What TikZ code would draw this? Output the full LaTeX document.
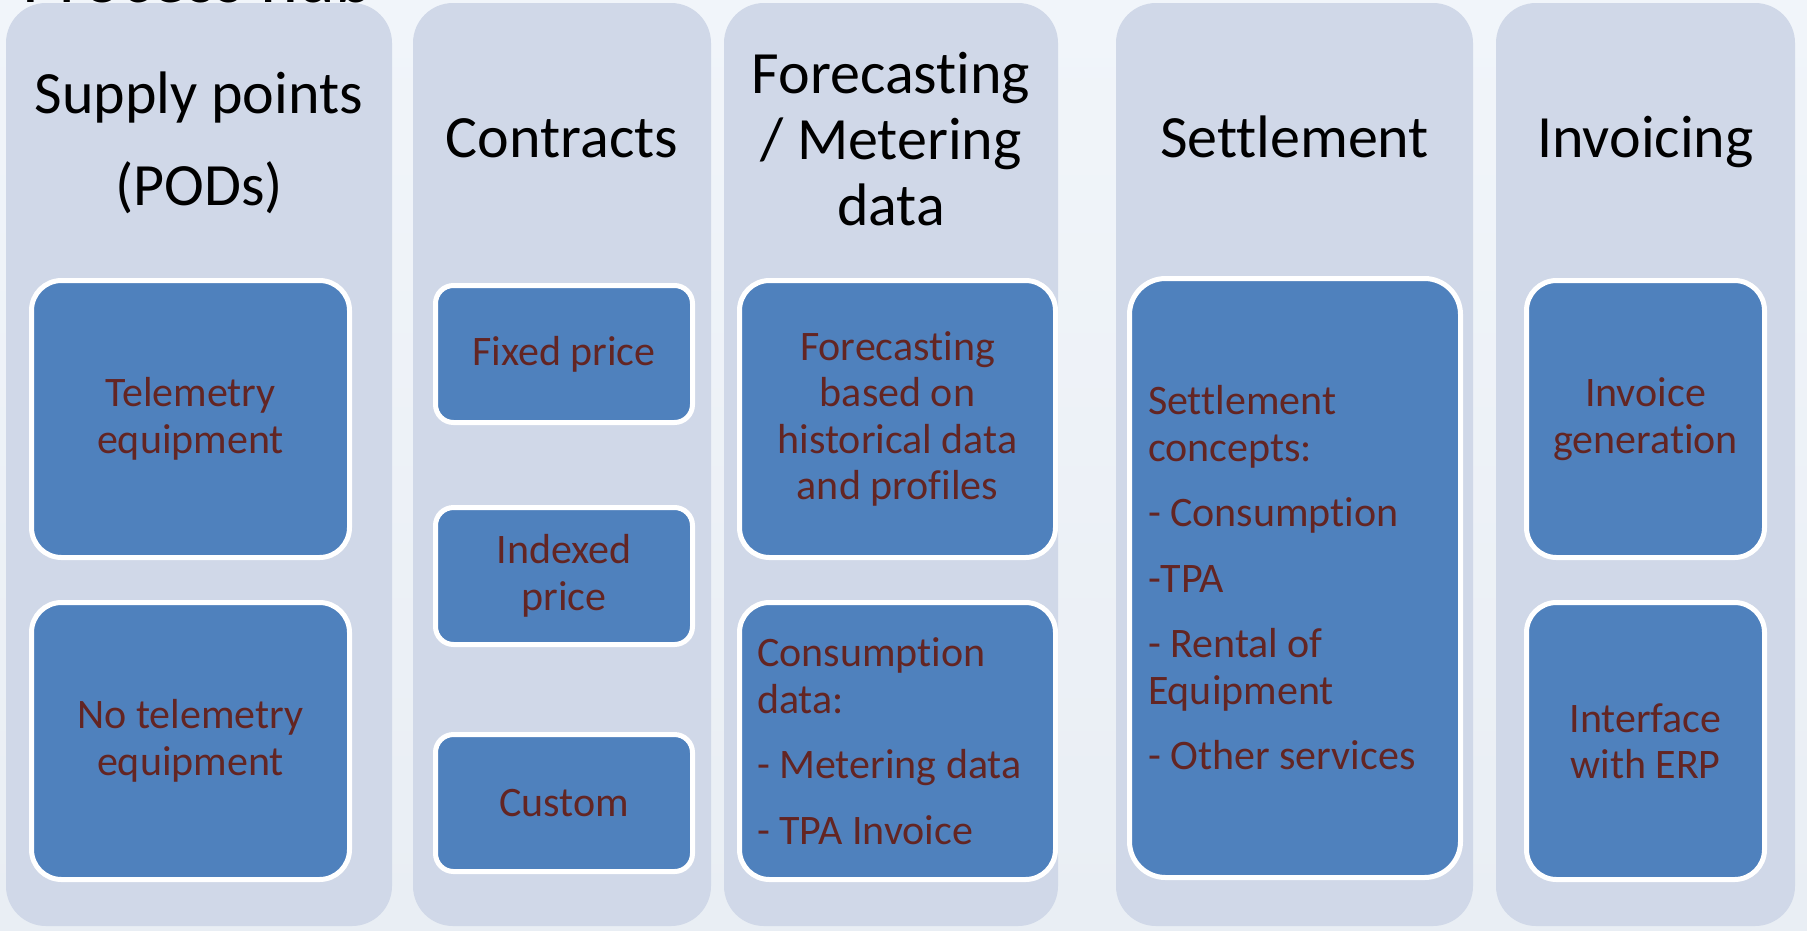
\documentclass[tikz,border=0pt]{standalone}
\usepackage{fontspec}
\setmainfont{Carlito}[Ligatures=NoCommon]
\definecolor{bgtop}{HTML}{F1F5FA}
\definecolor{bgbot}{HTML}{E9EEF4}
\definecolor{colfill}{HTML}{D0D8E8}
\definecolor{boxblue}{HTML}{4F81BD}
\definecolor{txtred}{HTML}{632523}
\tikzset{
  colbox/.style={rectangle, rounded corners=40pt, fill=colfill, inner sep=0pt, minimum width=#1, minimum height=923pt},
  title/.style={text=black, font=\fontsize{60}{66}\selectfont, align=center, inner sep=0pt},
  bluebox/.style={rectangle, rounded corners=30pt, fill=boxblue, draw=white, line width=5pt,
    text=txtred, font=\fontsize{42}{46.5}\selectfont, align=center, inner sep=0pt},
  smallbox/.style={bluebox, rounded corners=18pt, minimum width=257pt, minimum height=137pt},
  bigbox/.style={bluebox, minimum width=318pt, minimum height=277pt},
}
\begin{document}
\begin{tikzpicture}[x=1pt,y=-1pt]
\useasboundingbox (0,0) rectangle (1807,930);
\shade[top color=bgtop, bottom color=bgbot] (0,0) rectangle (1807,930);
\begin{scope}
\clip (0,0) rectangle (1807,930);
\node[anchor=base west, inner sep=0pt, font=\fontsize{72}{84}\selectfont, text=black] (hub) at (22,2) {Process hub};
\end{scope}

% columns
\node[colbox=386pt] (col1) at (199,464.5) {};
\node[colbox=298pt] (col2) at (562,464.5) {};
\node[colbox=334pt] (col3) at (891,464.5) {};
\node[colbox=357pt] (col4) at (1294.5,464.5) {};
\node[colbox=299pt] (col5) at (1645.5,464.5) {};

% titles
\node[title, font=\fontsize{60}{92}\selectfont] (t1) at (199,143) {Supply points\\(PODs)};
\node[title, anchor=base] (t2) at (562,157) {Contracts};
\node[title] (t3) at (891,139) {Forecasting\\/ Metering\\data};
\node[title, anchor=base] (t4) at (1294.5,157) {Settlement};
\node[title, anchor=base] (t5) at (1645.5,157) {Invoicing};

% column 1
\node[bigbox] (tel) at (190.5,419) {Telemetry\\equipment};
\node[bigbox] (notel) at (190.5,741) {No telemetry\\equipment};

% column 2
\node[smallbox] (fixed) at (564,354) {Fixed price};
\node[smallbox] (indexed) at (564,576) {Indexed\\price};
\node[smallbox] (custom) at (564,803) {Custom};

% column 3
\node[bigbox, minimum width=316pt] (fore) at (897.5,419) {Forecasting\\based on\\historical data\\and profiles};
\node[bluebox, align=flush left, text width=281pt, inner xsep=17.5pt, minimum height=277pt] (cons) at (897.5,741)
  {Consumption\\data:\\[19pt]- Metering data\\[19pt]- TPA Invoice};

% column 4
\node[bluebox, rounded corners=36pt, align=flush left, text width=294pt, inner xsep=18.5pt, minimum height=599pt] (settle) at (1295,578)
  {Settlement\\concepts:\\[19pt]- Consumption\\[19pt]-TPA\\[19pt]- Rental of\\Equipment\\[19pt]- Other services};

% column 5
\node[bigbox, minimum width=238pt] (invgen) at (1645.5,419) {Invoice\\generation};
\node[bigbox, minimum width=238pt] (erp) at (1645.5,741) {Interface\\with ERP};
\end{tikzpicture}
\end{document}
